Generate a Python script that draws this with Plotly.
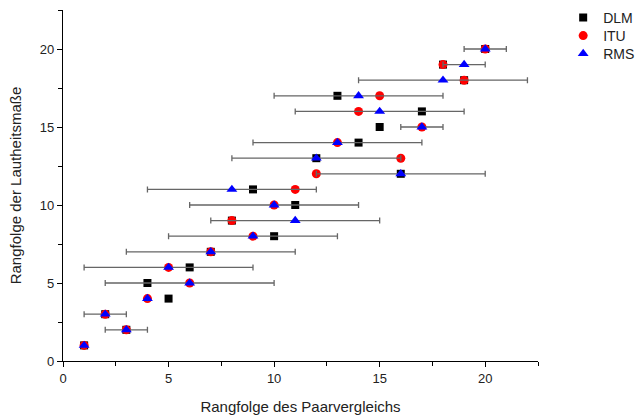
import plotly.graph_objects as go

ranks = list(range(1, 21))
dlm = [1, 3, 2, 5, 4, 6, 7, 10, 8, 11, 9, 16, 12, 14, 15, 17, 13, 19, 18, 20]
itu = [1, 3, 2, 4, 6, 5, 7, 9, 8, 10, 11, 12, 16, 13, 17, 14, 15, 19, 18, 20]
rms = [1, 3, 2, 4, 6, 5, 7, 9, 11, 10, 8, 16, 12, 13, 17, 15, 14, 18, 19, 20]
err = [0, 1, 1, 0, 4, 4, 4, 4, 4, 4, 4, 4, 4, 4, 1, 4, 4, 4, 1, 1]

font = "Liberation Sans, Arial, sans-serif"
fig = go.Figure()
fig.add_trace(go.Scatter(x=dlm, y=ranks, mode="markers", name="DLM", legend="legend",
                         showlegend=True,
                         marker=dict(symbol="square", size=8, color="black")))
fig.add_trace(go.Scatter(x=itu, y=ranks, mode="markers", name="ITU", legend="legend2",
                         showlegend=True,
                         marker=dict(symbol="circle", size=9, color="red")))
fig.add_trace(go.Scatter(x=rms, y=ranks, mode="markers", name="RMS", legend="legend3",
                         showlegend=True,
                         marker=dict(symbol="triangle-up", size=9.5, color="blue"),
                         error_x=dict(type="data", array=err, symmetric=True,
                                      color="#666666", thickness=1.3, width=3)))

axis_common = dict(showline=True, linecolor="black", linewidth=1.3,
                   ticks="outside", ticklen=5, tickwidth=1.3, tickcolor="black",
                   showgrid=False, zeroline=False,
                   tickfont=dict(family=font, size=13, color="#222"),
                   tick0=0, dtick=5,
                   minor=dict(ticks="outside", ticklen=4, tickwidth=1.3,
                              tickcolor="black", dtick=2.5, tick0=0))
fig.update_xaxes(range=[0, 22.5], title=dict(text="Rangfolge des Paarvergleichs",
                 font=dict(family=font, size=15, color="#222"), standoff=16), **axis_common)
fig.update_yaxes(range=[0, 22.5], title=dict(text="Rangfolge der Lautheitsmaße",
                 font=dict(family=font, size=15, color="#222"), standoff=14), **axis_common)

def leg(y):
    return dict(x=1.053, y=y, xanchor="left", yanchor="top",
                font=dict(family=font, size=14, color="#222"),
                bgcolor="rgba(0,0,0,0)", itemwidth=30)

fig.update_layout(
    width=637, height=416, showlegend=True,
    margin=dict(l=63, r=99, t=10, b=55, pad=0, autoexpand=False),
    plot_bgcolor="white", paper_bgcolor="white",
    legend=leg(1.0228), legend2=leg(0.9715), legend3=leg(0.9202),
)
fig.write_html("out.html")
